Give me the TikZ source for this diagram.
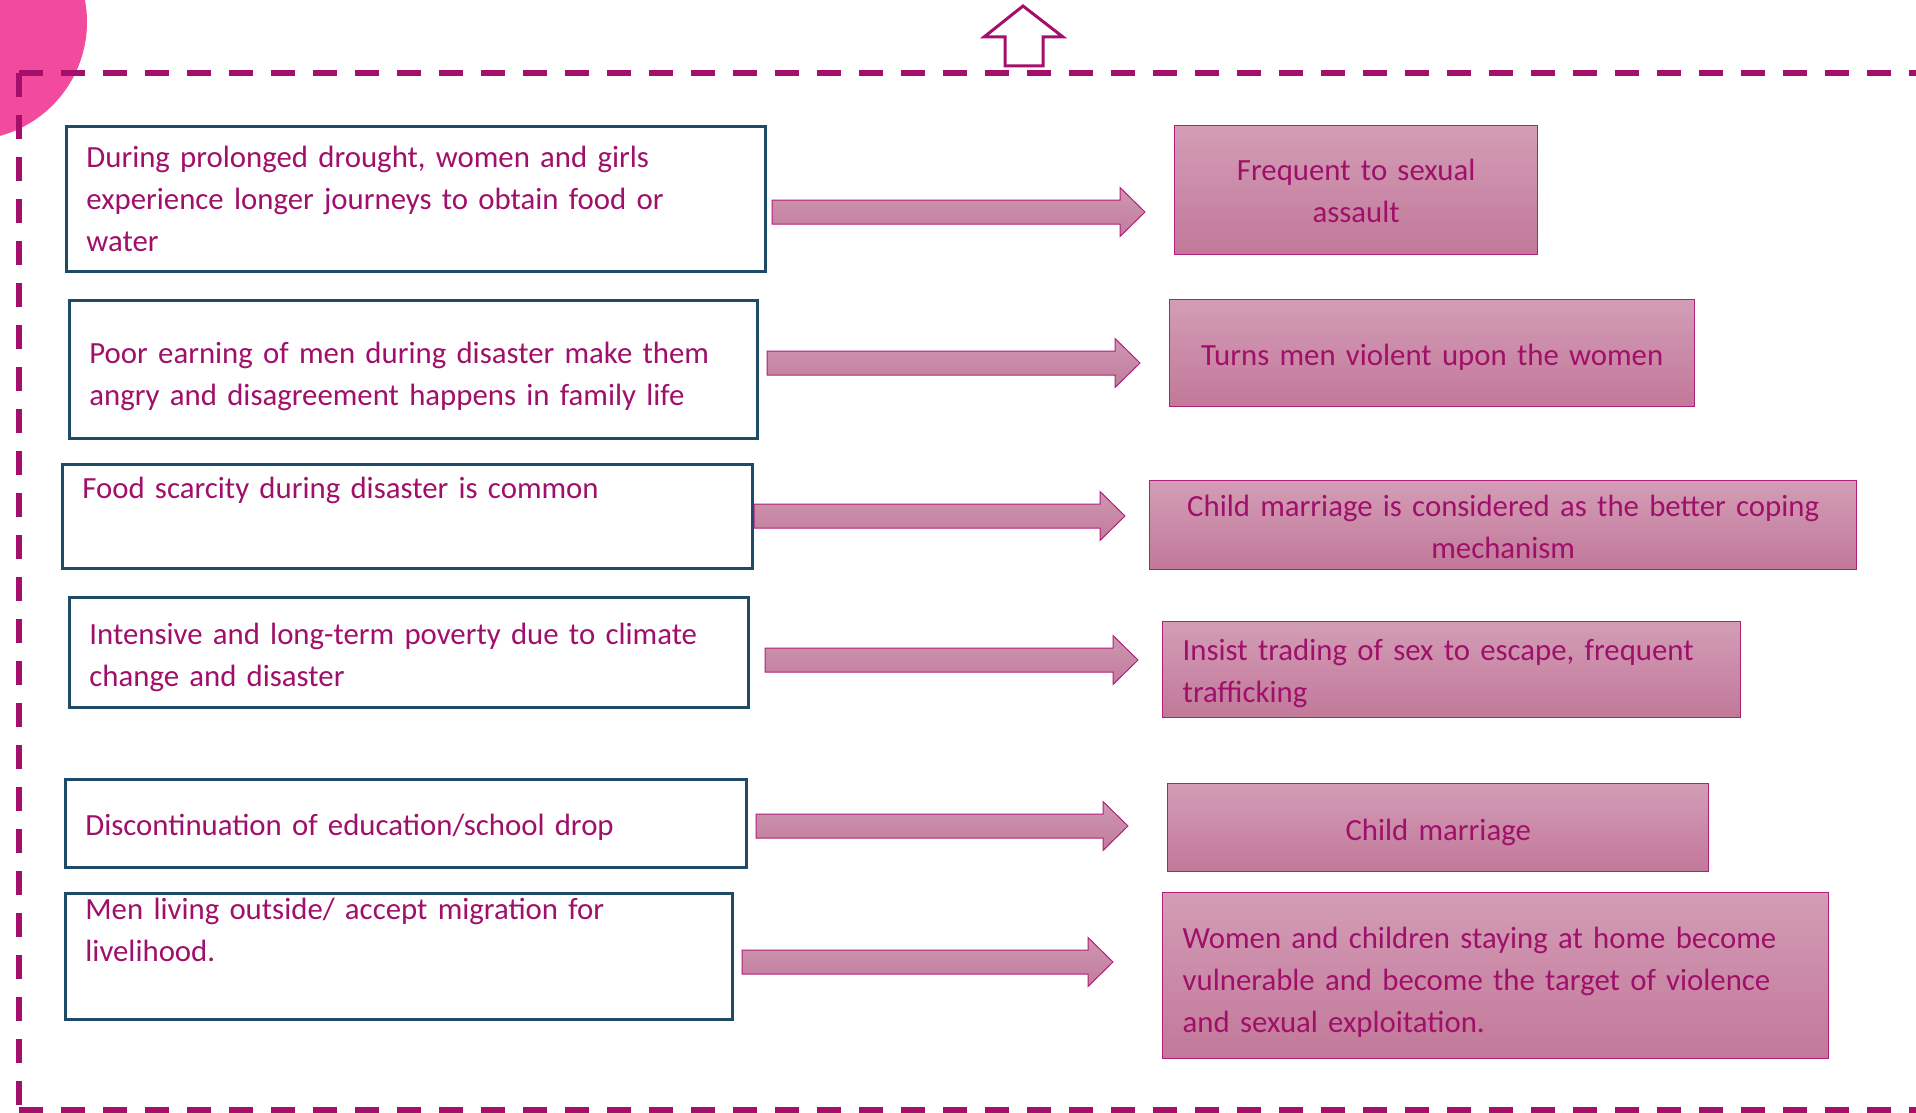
\documentclass[tikz,border=0pt]{standalone}
\usepackage{fontspec}
\setmainfont{Carlito}
\usepackage{xcolor}
\usepackage{tikz}
\usetikzlibrary{calc,positioning}
\definecolor{plum}{HTML}{A0106A}
\definecolor{frameline}{HTML}{A50F6C}
\definecolor{tealline}{HTML}{1F4B66}
\definecolor{blobpink}{HTML}{F24A9C}
\definecolor{boxtop}{HTML}{D39DB6}
\definecolor{boxbot}{HTML}{C27899}
\definecolor{boxline}{HTML}{B0207A}
\definecolor{arrowtop}{HTML}{CE97B0}
\definecolor{arrowbot}{HTML}{C27C9C}
\newcommand{\boxfont}{\fontsize{15.4pt}{21pt}\selectfont}
\tikzset{
  causebox/.style={draw=tealline, line width=1.4pt, fill=white, anchor=north west, inner xsep=10pt, align=left, text=plum, font=\boxfont, text height=11pt},
  effectbox/.style={draw=boxline, line width=0.7pt, top color=boxtop, bottom color=boxbot, anchor=north west, inner xsep=10pt, text=plum, font=\boxfont, text height=11pt},
  blockarrow/.style={draw=boxline, line width=0.5pt, top color=arrowtop, bottom color=arrowbot,
    to path={let \p1=(\tikztostart), \p2=(\tikztotarget) in
      (\x1,\y1+6pt) -- (\x2-12.5pt,\y1+6pt) -- (\x2-12.5pt,\y1+12.25pt) -- (\x2,\y1)
      -- (\x2-12.5pt,\y1-12.25pt) -- (\x2-12.5pt,\y1-6pt) -- (\x1,\y1-6pt) -- cycle}},
  framedash/.style={draw=frameline, line width=3pt, dash pattern=on 12pt off 9pt},
}

\begin{document}
\begin{tikzpicture}[x=0.5pt, y=-0.5pt]
  \useasboundingbox (0,0) rectangle (1916,1113);

  % Corner blob and dashed frame
  \fill[blobpink] (-31,22) circle [radius=59pt];
  \draw[framedash] (19,73) -- (1930,73);
  \draw[framedash] (19,73) -- (19,1110);
  \draw[framedash] (19,1110) -- (1930,1110);

  % Up arrow on the frame
  \draw[draw=frameline, line width=1.5pt, fill=white] (1023,6) -- (1063,37) -- (1043,37) -- (1043,66)
    -- (1005,66) -- (1005,37) -- (984,37) -- cycle;

  % Left: causes
  \node[causebox, text width=329.5pt, minimum height=72.5pt] (drought) at (65,125)
    {During prolonged drought, women and girls\\experience longer journeys to obtain food or\\water};
  \node[causebox, text width=324pt, minimum height=69pt, text height=17.8pt] (earning) at (68,299)
    {Poor earning of men during disaster make them\\angry and disagreement happens in family life};
  \node[causebox, text width=325pt, inner ysep=4pt, text height=13.2pt, text depth=30.8pt] (food) at (61,463)
    {Food scarcity during disaster is common};
  \node[causebox, text width=319.5pt, minimum height=55pt, text height=15.3pt] (poverty) at (68,596)
    {Intensive and long-term poverty due to climate\\change and disaster};
  \node[causebox, text width=320.5pt, minimum height=44pt, text height=14.7pt] (school) at (64,778)
    {Discontinuation of education/school drop};
  \node[causebox, text width=313.5pt, inner ysep=2pt, text height=11.2pt, text depth=47.8pt] (migrate) at (64,892)
    {Men living outside/ accept migration for\\livelihood.};

  % Right: effects
  \node[effectbox, align=center, text width=161.5pt, minimum height=64.5pt] (assault) at (1174,125)
    {Frequent to sexual\\assault};
  \node[effectbox, align=center, text width=242.5pt, minimum height=53.5pt, text height=14.7pt] (violent) at (1169,299)
    {Turns men violent upon the women};
  \node[effectbox, align=center, text width=333.5pt, minimum height=44.5pt, text height=12.2pt] (coping) at (1149,480)
    {Child marriage is considered as the better coping\\mechanism};
  \node[effectbox, align=left, text width=269pt, minimum height=48pt, text height=14pt] (trading) at (1162,621)
    {Insist trading of sex to escape, frequent\\trafficking};
  \node[effectbox, align=center, text width=250.5pt, minimum height=44pt, text height=15.9pt] (marriage) at (1167,783)
    {Child marriage};
  \node[effectbox, align=left, text width=313pt, minimum height=83pt, text height=17.7pt] (target) at (1162,892)
    {Women and children staying at home become\\vulnerable and become the target of violence\\and sexual exploitation.};

  % Block arrows
  \coordinate (s1) at (772,212);  \coordinate (e1) at (1145,212);
  \coordinate (s2) at (767,363);  \coordinate (e2) at (1140,363);
  \coordinate (s3) at (754,516);  \coordinate (e3) at (1125,516);
  \coordinate (s4) at (765,660);  \coordinate (e4) at (1138,660);
  \coordinate (s5) at (756,826);  \coordinate (e5) at (1128,826);
  \coordinate (s6) at (742,962);  \coordinate (e6) at (1113,962);
  \foreach \i in {1,...,6}
    \path[blockarrow] (s\i) to (e\i);
\end{tikzpicture}
\end{document}
